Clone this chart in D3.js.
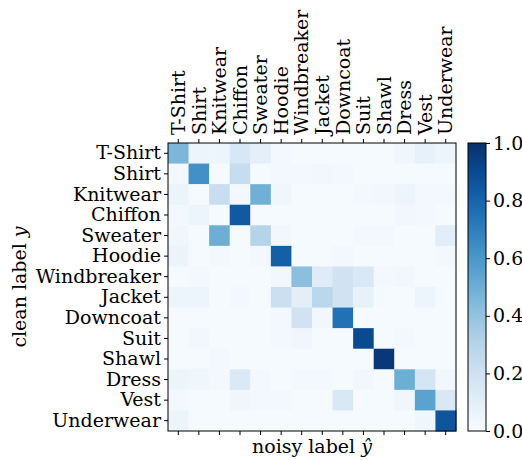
<!DOCTYPE html>
<html>
<head>
<meta charset="utf-8">
<script src="https://cdn.jsdelivr.net/npm/d3@7"></script>
<style>
  body { margin: 0; background: #fff; }
  text { font-family: "DejaVu Serif", serif; fill: #000; }
</style>
</head>
<body>
<svg id="chart" width="522" height="460"></svg>
<script>
const labels = ["T-Shirt", "Shirt", "Knitwear", "Chiffon", "Sweater", "Hoodie", "Windbreaker",
  "Jacket", "Downcoat", "Suit", "Shawl", "Dress", "Vest", "Underwear"];

// rows = clean label, columns = noisy label
const rowTShirt      = [0.46, 0.05, 0.05, 0.16, 0.09, 0.02, 0.01, 0.01, 0.01, 0.01, 0.01, 0.04, 0.08, 0.05];
const rowShirt       = [0.02, 0.63, 0.01, 0.24, 0.01, 0.02, 0.02, 0.03, 0.02, 0.01, 0.01, 0.01, 0.01, 0.01];
const rowKnitwear    = [0.06, 0.01, 0.23, 0.02, 0.49, 0.04, 0.01, 0.01, 0.01, 0.02, 0.03, 0.05, 0.02, 0.02];
const rowChiffon     = [0.02, 0.05, 0.01, 0.84, 0.01, 0.01, 0.01, 0.01, 0.01, 0.01, 0.01, 0.03, 0.02, 0.01];
const rowSweater     = [0.04, 0.01, 0.50, 0.01, 0.30, 0.03, 0.01, 0.01, 0.01, 0.02, 0.02, 0.01, 0.01, 0.11];
const rowHoodie      = [0.06, 0.01, 0.02, 0.01, 0.02, 0.82, 0.01, 0.01, 0.02, 0.01, 0.01, 0.01, 0.01, 0.02];
const rowWindbreaker = [0.01, 0.02, 0.01, 0.01, 0.01, 0.03, 0.42, 0.12, 0.19, 0.15, 0.02, 0.03, 0.01, 0.01];
const rowJacket      = [0.05, 0.05, 0.01, 0.02, 0.01, 0.22, 0.10, 0.28, 0.19, 0.08, 0.01, 0.01, 0.05, 0.01];
const rowDowncoat    = [0.01, 0.01, 0.01, 0.01, 0.01, 0.02, 0.19, 0.03, 0.75, 0.01, 0.01, 0.01, 0.01, 0.01];
const rowSuit        = [0.01, 0.03, 0.01, 0.01, 0.01, 0.02, 0.04, 0.01, 0.01, 0.90, 0.01, 0.02, 0.01, 0.01];
const rowShawl       = [0.01, 0.01, 0.02, 0.01, 0.01, 0.01, 0.01, 0.01, 0.01, 0.01, 0.97, 0.01, 0.01, 0.01];
const rowDress       = [0.05, 0.04, 0.02, 0.14, 0.02, 0.01, 0.02, 0.02, 0.01, 0.03, 0.01, 0.50, 0.17, 0.03];
const rowVest        = [0.02, 0.01, 0.01, 0.04, 0.02, 0.02, 0.01, 0.01, 0.15, 0.01, 0.01, 0.04, 0.55, 0.15];
const rowUnderwear   = [0.05, 0.01, 0.01, 0.01, 0.01, 0.01, 0.01, 0.01, 0.01, 0.01, 0.01, 0.01, 0.04, 0.86];

const matrix = [rowTShirt, rowShirt, rowKnitwear, rowChiffon, rowSweater, rowHoodie, rowWindbreaker,
  rowJacket, rowDowncoat, rowSuit, rowShawl, rowDress, rowVest, rowUnderwear];
const colorTicks = [0.0, 0.2, 0.4, 0.6, 0.8, 1.0];

const svg = d3.select("#chart");
const fontSize = 19;
const margin = {top: 143, left: 168},
      size = 288;

const x = d3.scaleBand().domain(labels).range([0, size]);
const y = d3.scaleBand().domain(labels).range([0, size]);
const color = d3.scaleSequential(d3.interpolateBlues).domain([0, 1]);

const cells = [];
matrix.forEach((row, i) => row.forEach((v, j) => cells.push({row: labels[i], col: labels[j], value: v})));

const g = svg.append("g")
  .attr("transform", "translate(" + margin.left + "," + margin.top + ")");

g.selectAll(".cell")
  .data(cells)
  .enter().append("rect")
  .attr("class", "cell")
  .attr("x", d => x(d.col))
  .attr("y", d => y(d.row))
  .attr("width", x.bandwidth() + 0.5)
  .attr("height", y.bandwidth() + 0.5)
  .attr("fill", d => color(d.value));

// top axis with labels
const topAxis = g.append("g").call(d3.axisTop(x).tickSize(4).tickPadding(3));
topAxis.selectAll("text")
  .attr("transform", "rotate(-90)")
  .attr("x", 8).attr("y", 0).attr("dy", "0.35em")
  .style("text-anchor", "start")
  .style("font-size", fontSize + "px");

// bottom ticks only
g.append("g")
  .attr("transform", "translate(0," + size + ")")
  .call(d3.axisBottom(x).tickSize(4).tickFormat(""));

// left axis
g.append("g").call(d3.axisLeft(y).tickSize(4).tickPadding(3))
  .selectAll("text").style("font-size", fontSize + "px");

g.selectAll(".domain").remove();
g.append("rect")
  .attr("width", size).attr("height", size)
  .attr("fill", "none").attr("stroke", "#000").attr("stroke-width", 1);
g.selectAll(".tick line").attr("stroke", "#000");

// axis titles
const xTitle = svg.append("text")
  .attr("x", margin.left + size / 2).attr("y", 453)
  .attr("text-anchor", "middle")
  .style("font-size", fontSize + "px");
xTitle.append("tspan").text("noisy label ");
xTitle.append("tspan").style("font-style", "italic").text("ŷ");

const yTitle = svg.append("text")
  .attr("transform", "translate(26," + (margin.top + size / 2) + ") rotate(-90)")
  .attr("text-anchor", "middle")
  .style("font-size", fontSize + "px");
yTitle.append("tspan").text("clean label ");
yTitle.append("tspan").style("font-style", "italic").text("y");

// colorbar
const cbX = 468, cbW = 18;
const cy = d3.scaleLinear().domain([0, 1]).range([margin.top + size, margin.top]);
const defs = svg.append("defs");
const grad = defs.append("linearGradient").attr("id", "cbGrad")
  .attr("x1", 0).attr("y1", 1).attr("x2", 0).attr("y2", 0);
d3.range(0, 1.0001, 0.05).forEach(t => {
  grad.append("stop").attr("offset", t).attr("stop-color", color(t));
});
svg.append("rect")
  .attr("x", cbX).attr("y", margin.top)
  .attr("width", cbW).attr("height", size)
  .attr("fill", "url(#cbGrad)")
  .attr("stroke", "#000").attr("stroke-width", 1);

const cb = svg.append("g")
  .attr("transform", "translate(" + (cbX + cbW) + ",0)")
  .call(d3.axisRight(cy).tickValues(colorTicks).tickFormat(d3.format(".1f")).tickSize(4).tickPadding(3));
cb.select(".domain").remove();
cb.selectAll("text").style("font-size", fontSize + "px");
cb.selectAll(".tick line").attr("stroke", "#000");
</script>
</body>
</html>
